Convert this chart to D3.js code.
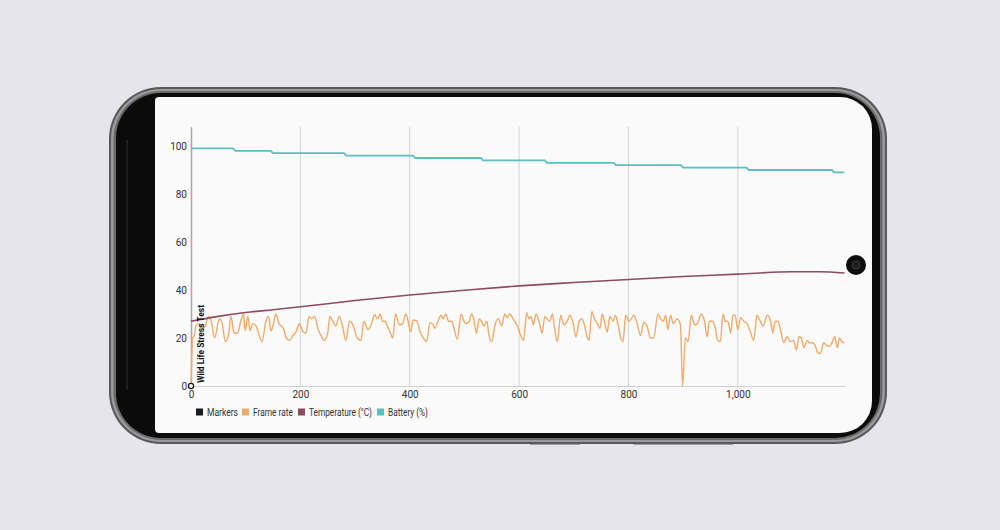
<!DOCTYPE html>
<html>
<head>
<meta charset="utf-8">
<script src="https://cdn.jsdelivr.net/npm/d3@7"></script>
<style>
html,body{margin:0;padding:0;background:#e6e5ea;}
svg{display:block;font-family:Roboto,"Noto Sans",sans-serif;}
</style>
</head>
<body>
<svg id="c" width="1000" height="530"></svg>
<script>
// ---- data ----
const xTicks = [0, 200, 400, 600, 800, 1000];
const yTicks = [0, 20, 40, 60, 80, 100];
const legendLabels = ["Markers", "Frame rate", "Temperature (°C)", "Battery (%)"];
const markerTimes = [0];
const markerLabels = ["Wild Life Stress Test"];

const fpsTime = [0,3,6,9,14,20,26,32,37,43,52,57,63,69,73,79,85,91,96,99,104,108,113,119,125,130,137,142,146,151,155,161,169,174,181,186,192,198,204,210,216,221,226,232,238,244,250,254,259,265,271,277,283,290,
297,303,311,316,324,330,336,341,346,350,355,359,364,369,374,381,387,393,397,402,406,413,419,425,431,437,443,446,452,457,461,466,471,477,481,487,494,499,504,509,513,517,522,527,531,536,541,545,550,556,562,568,574,578,583,589,
597,603,608,614,618,622,626,631,635,638,642,647,651,656,661,665,670,676,682,688,693,699,704,710,715,720,725,728,733,738,743,748,752,756,761,766,772,776,781,786,790,795,801,805,810,816,822,828,834,840,846,854,859,864,868,872,877,882,889,895,899,904,909,915,921,926,933,939,944,948,954,959,963,968,973,977,982,987,991,995,1000,1005,1011,1017,1023,1029,1035,1041,1046,1054,1060,1064,1068,1073,1079,1084,1090,1096,1102,1107,1112,1116,1121,1127,1131,1137,1141,1146,1151,1157,1162,1168,1172,1177,1182,1186,1190,1195];
const fpsValue = [0,20,21,25,26,24,25,29,27,20,28,26,18.5,22,29,22,22,27,30,23,29,23,26,25,21,18.5,27,29,23,26,30,26,24,20,19,21,22.5,26,23,22,29,28,29,24,21,19,22,29,27,25,29,25,19,27,
25,20.5,19,27,23.5,26,29.7,28,30,27,27,25,22.5,20,30,25.5,26,30,27,22.5,27.5,27,22.5,20,18.5,26.5,25.5,24,27,29.5,28,30,27,27,24,19.5,30,27,26,27,30,28,22,28,27,25,27,21,18.5,25.5,28,25,30,28.5,30,28,
25,21,19,30.5,28,29,25.5,30,28,25.5,22,29,28,27,30,24,18.5,29.5,25.5,27,29.5,26,20.5,27,28,25,20,19,31,28,26,24,30,27,22.5,29,27,29.5,25.5,20,18.5,29.5,27,28,29.5,26,21,26.5,25,20,20,30,28,27,29.5,23.5,29.5,26,28,25.5,0,20,18.5,29.5,25.5,26,30,27,20.5,27,27,24,19,18.5,30,27,27,22,29.5,29.5,23.5,28.5,27,26,22.5,19,29.5,27,25,29.5,27,22,27,27,22.5,18,20.5,18.5,19,15,20.5,20,16,19,18,18,17,14,13.5,18,17,16.5,18,20.5,16,20,18.5,18];

const tempTime  = [0, 50, 100, 150, 200, 300, 400, 500, 600, 700, 800, 900, 1000, 1100, 1150, 1195];
const tempValue = [27, 29, 30.6, 31.8, 33, 35.6, 37.9, 39.9, 41.7, 43.1, 44.4, 45.6, 46.6, 47.6, 47.6, 47.1];

const batTime  = [0, 77, 81, 146, 150, 280, 284, 406, 410, 530, 534, 647, 651, 773, 777, 896, 900, 1016, 1020, 1172, 1176, 1195];
const batValue = [99, 99, 98, 98, 97, 97, 96, 96, 95, 95, 94, 94, 93, 93, 92, 92, 91, 91, 90, 90, 89, 89];

// ---- styling ----
const colors = {marker: "#1a1a1a", fps: "#f0aa6a", temp: "#8e4b5f", bat: "#5cbfbf"};
const legendColors = [colors.marker, colors.fps, colors.temp, colors.bat];

const svg = d3.select("#c");

// ---- phone frame ----
svg.append("rect").attr("x",0).attr("y",0).attr("width",1000).attr("height",530).attr("fill","#e6e5ea");

svg.append("rect").attr("x",109).attr("y",87).attr("width",778).attr("height",357).attr("rx",52).attr("fill","#58585a");
svg.append("rect").attr("x",111).attr("y",89).attr("width",774).attr("height",353).attr("rx",50).attr("fill","#9a9a9c");
svg.append("rect").attr("x",113.5).attr("y",91).attr("width",769).attr("height",349).attr("rx",48).attr("fill","#6a6a6c");
svg.append("rect").attr("x",116).attr("y",93).attr("width",764).attr("height",345).attr("rx",45).attr("fill","#0b0b0b");
svg.append("line").attr("x1",127).attr("x2",127).attr("y1",140).attr("y2",390).attr("stroke","#2c2c2c").attr("stroke-width",1.2);

// screen: small left radius, large right radius
const sx0 = 155, sx1 = 872, sy0 = 97, sy1 = 433, rR = 32, rL = 4;
const scr = d3.path();
scr.moveTo(sx0 + rL, sy0);
scr.lineTo(sx1 - rR, sy0);
scr.arcTo(sx1, sy0, sx1, sy0 + rR, rR);
scr.lineTo(sx1, sy1 - rR);
scr.arcTo(sx1, sy1, sx1 - rR, sy1, rR);
scr.lineTo(sx0 + rL, sy1);
scr.arcTo(sx0, sy1, sx0, sy1 - rL, rL);
scr.lineTo(sx0, sy0 + rL);
scr.arcTo(sx0, sy0, sx0 + rL, sy0, rL);
scr.closePath();
svg.append("path").attr("d", scr.toString()).attr("fill","#fafafa");

// buttons on bottom edge
svg.append("rect").attr("x",530).attr("y",442).attr("width",50).attr("height",2.5).attr("fill","#5a5a5c");
svg.append("rect").attr("x",633).attr("y",442).attr("width",100).attr("height",2.5).attr("fill","#5a5a5c");

// ---- chart ----
const x = d3.scaleLinear().domain([0, 1196]).range([191, 845]);
const y = d3.scaleLinear().domain([0, 108]).range([386, 126.8]);

const chart = svg.append("g");

// vertical grid lines
chart.append("g").selectAll("line").data(xTicks.filter(d => d > 0)).join("line")
  .attr("x1", d => x(d)).attr("x2", d => x(d))
  .attr("y1", y(108)).attr("y2", y(0))
  .attr("stroke", "#d4d4d4").attr("stroke-width", 1);

// x axis
const xAxis = chart.append("g").attr("transform", `translate(0,${y(0)})`)
  .call(d3.axisBottom(x).tickValues(xTicks).tickSize(0).tickPadding(5).tickFormat(d3.format(",")));
xAxis.select(".domain").attr("stroke", "#cfcfcf").attr("stroke-width", 1.2);
xAxis.selectAll("text").attr("font-size", 10).attr("fill", "#333").attr("font-family", "Roboto, sans-serif");

// y axis
const yAxis = chart.append("g").attr("transform", `translate(${x(0)},0)`)
  .call(d3.axisLeft(y).tickValues(yTicks).tickSize(0).tickPadding(4));
yAxis.select(".domain").attr("stroke", "#a8a8a8").attr("stroke-width", 1.5);
yAxis.selectAll("text").attr("font-size", 10).attr("fill", "#333").attr("font-family", "Roboto, sans-serif");

// lines
const fpsData = fpsTime.map((t, i) => [t, fpsValue[i]]);
const tempData = tempTime.map((t, i) => [t, tempValue[i]]);
const batData = batTime.map((t, i) => [t, batValue[i]]);

chart.append("path").datum(batData)
  .attr("fill", "none").attr("stroke", colors.bat).attr("stroke-width", 1.8)
  .attr("d", d3.line().x(d => x(d[0])).y(d => y(d[1])));

chart.append("path").datum(fpsData)
  .attr("fill", "none").attr("stroke", colors.fps).attr("stroke-width", 1.4).attr("stroke-linejoin","round")
  .attr("d", d3.line().curve(d3.curveMonotoneX).x(d => x(d[0])).y(d => y(d[1])));

chart.append("path").datum(tempData)
  .attr("fill", "none").attr("stroke", colors.temp).attr("stroke-width", 1.6)
  .attr("d", d3.line().curve(d3.curveMonotoneX).x(d => x(d[0])).y(d => y(d[1])));

// markers
markerTimes.forEach((t, i) => {
  chart.append("circle").attr("cx", x(t)).attr("cy", y(0)).attr("r", 2.6)
    .attr("fill", "#fff").attr("stroke", colors.marker).attr("stroke-width", 1.3);
  chart.append("text")
    .attr("transform", `translate(${x(t) + 12.5},${y(0) - 3}) rotate(-90)`)
    .attr("font-size", 9.5).attr("font-weight", "bold").attr("fill", "#111")
    .attr("textLength", 78).attr("lengthAdjust", "spacingAndGlyphs")
    .text(markerLabels[i]);
});

// legend
const legendX = [196, 242, 298, 377];
const legendW = [31, 40, 63, 40];
const leg = chart.append("g");
legendLabels.forEach((lab, i) => {
  leg.append("rect").attr("x", legendX[i]).attr("y", 408.5).attr("width", 7).attr("height", 7).attr("fill", legendColors[i]);
  leg.append("text").attr("x", legendX[i] + 11).attr("y", 415.5).attr("font-size", 10).attr("fill", "#333")
    .attr("textLength", legendW[i]).attr("lengthAdjust", "spacingAndGlyphs").text(lab);
});

// camera hole
svg.append("circle").attr("cx", 856).attr("cy", 265).attr("r", 10).attr("fill", "#0e0e0e");
svg.append("circle").attr("cx", 856).attr("cy", 265).attr("r", 4).attr("fill", "#1e1e1e").attr("stroke", "#3a3a3a").attr("stroke-width", 1);
</script>
</body>
</html>
